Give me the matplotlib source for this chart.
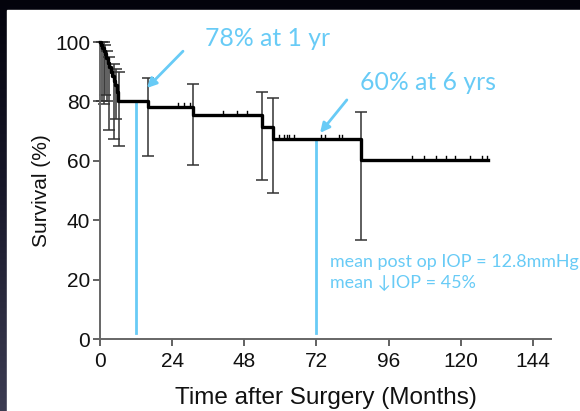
import numpy as np
import matplotlib.pyplot as plt
from matplotlib.patches import Rectangle

# Kaplan-Meier curve (months, % survival)
km_t = [0, 0.4, 0.8, 1.2, 1.6, 2.0, 2.5, 3.0, 3.5, 4.0, 4.5, 5.0, 5.5, 6.0,
        16, 31, 54, 57.6, 86.8, 129]
km_s = [100, 99, 98, 97, 96, 94.5, 93, 91.5, 90, 88.5, 87, 85.5, 83, 80,
        78, 75.5, 71.5, 67.4, 60.4, 60.4]

# error bars
err_t = [0.6, 1.2, 1.8, 2.4, 3.0, 4.6, 5.4, 6.2, 16, 31, 54, 57.6, 86.8]
err_lo = [80, 79, 82, 80, 70.5, 67.5, 74, 65, 61.5, 58.5, 53.5, 49, 33.5]
err_hi = [100, 100, 99, 97, 95, 92.5, 91, 90, 88, 86, 83, 81, 76.5]

# censored observations
cens_t = [25.8, 28, 30, 40.8, 45.6, 48.8, 59.6, 61.3, 62.1, 62.9, 64.6,
          73.5, 74.8, 79.6, 80.4, 103.9, 107.8, 111.7, 115, 118, 123, 126.9, 128.6]

x_ticks = [0, 24, 48, 72, 96, 120, 144]
y_ticks = [0, 20, 40, 60, 80, 100]
marks_t = [12, 72]

blue = '#68cbf6'

def surv_at(t):
    i = np.searchsorted(km_t, t, side='right') - 1
    return km_s[i]

fig = plt.figure(figsize=(5.8, 4.11), dpi=100)

# dark slide background with a white panel
bg = fig.add_axes([0, 0, 1, 1])
grad = np.linspace(0, 1, 256).reshape(-1, 1)
bg.imshow(grad, aspect='auto', extent=[0, 1, 0, 1], origin='upper',
          cmap=plt.matplotlib.colors.LinearSegmentedColormap.from_list(
              'g', ['#03030c', '#1a1a2c', '#3c3c52']))
bg.add_patch(Rectangle((7 / 580, 0), 1, 1 - 10 / 411, color='white', zorder=2))
bg.set_xlim(0, 1)
bg.set_ylim(0, 1)
bg.axis('off')

ax = fig.add_axes([100 / 580, 1 - 339 / 411, 451 / 580, 297 / 411])
ax.set_facecolor('none')

for t in marks_t:
    ax.plot([t, t], [2, surv_at(t)], color=blue, lw=2, zorder=1)

for t, lo, hi in zip(err_t, err_lo, err_hi):
    ax.errorbar([t], [(lo + hi) / 2], yerr=[[(hi - lo) / 2], [(hi - lo) / 2]],
                fmt='none', ecolor='#333333', elinewidth=1.1, capsize=4,
                capthick=1.1, zorder=2, clip_on=False)

ax.step(km_t, km_s, where='post', color='black', lw=2.4, zorder=3, clip_on=False)

cens_s = [surv_at(t) for t in cens_t]
for t, s in zip(cens_t, cens_s):
    ax.plot([t, t], [s, s + 1.3], color='black', lw=1, zorder=3)

ax.set_xlim(0, 150)
ax.set_ylim(0, 100)
ax.set_xticks(x_ticks)
ax.set_yticks(y_ticks)
for sp in ['top', 'right']:
    ax.spines[sp].set_visible(False)
for sp in ['left', 'bottom']:
    ax.spines[sp].set_color('#666666')
    ax.spines[sp].set_linewidth(1.4)
ax.tick_params(direction='out', length=5, width=1.3, color='#555555',
               labelsize=15, labelcolor='#111111')
ax.tick_params(axis='x', pad=4)
ax.tick_params(axis='y', pad=2)
for lab in ax.get_xticklabels() + ax.get_yticklabels():
    lab.set_family('Liberation Sans')

ax.set_xlabel('Time after Surgery (Months)', fontsize=17.5, family='Liberation Sans',
              color='#111111', labelpad=12)
ax.set_ylabel('Survival (%)', fontsize=15, family='Liberation Sans',
              color='#111111', labelpad=3)

ax.text(34.9, 101.3, '78% at 1 yr', fontsize=17.8, family=['Lato', 'DejaVu Sans'],
        color=blue, va='center', ha='left', clip_on=False)
ax.annotate('', xy=(15.6, 84.5), xytext=(27.6, 96.9), annotation_clip=False,
            arrowprops=dict(arrowstyle='-|>', color=blue, lw=2,
                            mutation_scale=14, shrinkA=0, shrinkB=0))
ax.text(86.5, 86.5, '60% at 6 yrs', fontsize=17.8, family=['Lato', 'DejaVu Sans'],
        color=blue, va='center', ha='left', clip_on=False)
ax.annotate('', xy=(73.2, 69.4), xytext=(82.1, 80.5), annotation_clip=False,
            arrowprops=dict(arrowstyle='-|>', color=blue, lw=2,
                            mutation_scale=14, shrinkA=0, shrinkB=0))

ax.text(76.5, 26, 'mean post op IOP = 12.8mmHg', fontsize=12.9,
        family=['Lato', 'DejaVu Sans'], color=blue, va='center', ha='left', clip_on=False)
ax.text(76.5, 19, 'mean \u2193IOP = 45%', fontsize=12.9,
        family=['Lato', 'DejaVu Sans'], color=blue, va='center', ha='left', clip_on=False)

fig.savefig('out.png', dpi=100)
